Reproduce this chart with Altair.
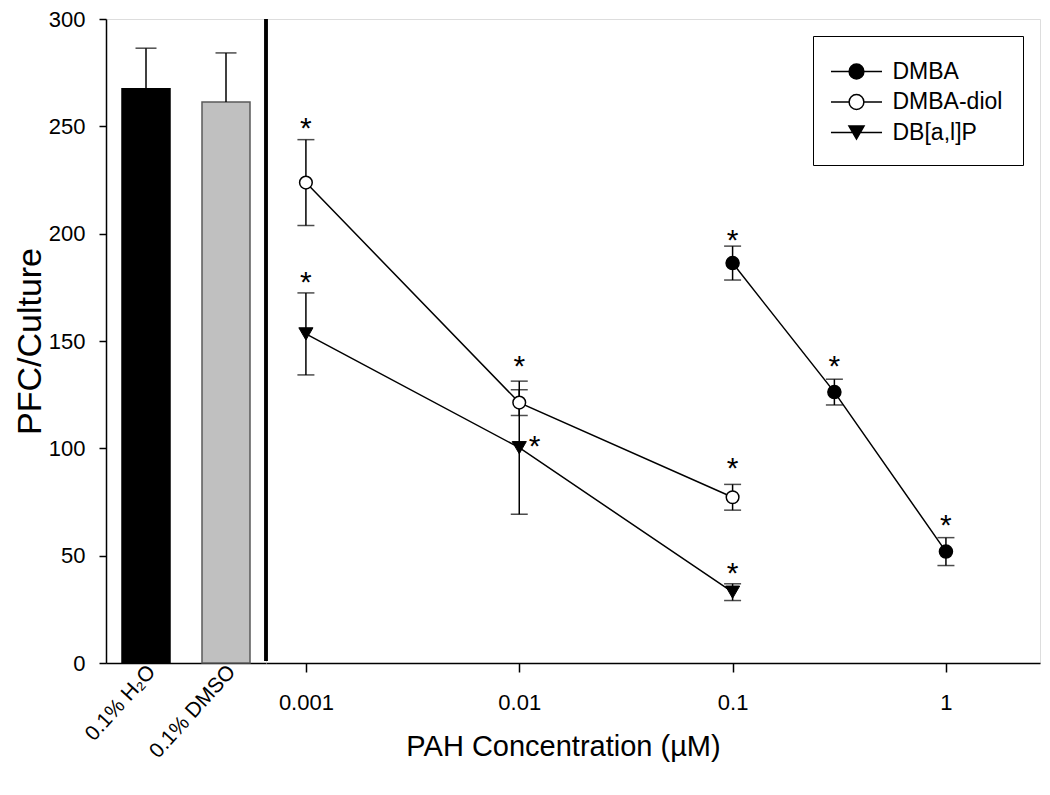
import altair as alt
import pandas as pd

# ---- control bars ----
ctrl_labels = ["0.1% H₂O", "0.1% DMSO"]
ctrl_mean = [267.5, 261.3]
ctrl_hi = [286.4, 284.2]

# ---- dose-response series ----
series = ["DMBA", "DMBA-diol", "DB[a,l]P"]
dmba_conc = [0.1, 0.3, 1.0]
dmba_mean = [186.3, 126.2, 51.9]
dmba_err = [7.9, 6.0, 6.5]
dmba_star = [200.2, 141.6, 67.6]

diol_conc = [0.001, 0.01, 0.1]
diol_mean = [223.8, 121.3, 77.2]
diol_err = [20.0, 6.0, 6.0]
diol_star = [252.6, 141.6, 93.9]

db_conc = [0.001, 0.01, 0.1]
db_mean = [153.3, 100.3, 33.0]
db_err = [19.1, 31.0, 3.9]
db_star = [180.9, None, 45.3]
db_side_star_conc = [0.0118]
db_side_star_val = [104.5]

x_ticks = [0.001, 0.01, 0.1, 1]
y_ticks = [0, 50, 100, 150, 200, 250, 300]

SANS = "Liberation Sans"

rows = []
for name, cs, ms, es, ss in [
    ("DMBA", dmba_conc, dmba_mean, dmba_err, dmba_star),
    ("DMBA-diol", diol_conc, diol_mean, diol_err, diol_star),
    ("DB[a,l]P", db_conc, db_mean, db_err, db_star),
]:
    for c, m, e, s in zip(cs, ms, es, ss):
        rows.append({"series": name, "conc": c, "mean": m, "lo": m - e, "hi": m + e, "star": s})
df = pd.DataFrame(rows)
side_star = pd.DataFrame({"conc": db_side_star_conc, "star": db_side_star_val})
ctrl = pd.DataFrame({"label": ctrl_labels, "mean": ctrl_mean, "hi": ctrl_hi})

H = 644
yscale = alt.Scale(domain=[0, 300], nice=False, zero=True)

# ---- left panel ----
xband = alt.X(
    "label:N",
    sort=ctrl_labels,
    scale=alt.Scale(paddingInner=0.4, paddingOuter=0.2),
    axis=alt.Axis(title=None, labelAngle=-48, labelFont=SANS, labelFontSize=21,
                  labelColor="black", ticks=False, domain=True, domainColor="black",
                  domainWidth=1.5, labelPadding=5, labelOffset=6),
)
yleft = alt.Y(
    "mean:Q", scale=yscale,
    axis=alt.Axis(title="PFC/Culture", values=y_ticks, grid=False, tickSize=7, tickWidth=1.5,
                  tickColor="black", domainColor="black", domainWidth=1.5,
                  labelFont=SANS, labelFontSize=22, labelColor="black", labelPadding=14,
                  titleFont=SANS, titleFontSize=34, titleFontWeight="normal",
                  titleColor="black", titlePadding=1),
)
bars = alt.Chart(ctrl).mark_bar(strokeWidth=1.5).encode(
    x=xband, y=yleft,
    fill=alt.Fill("label:N", scale=alt.Scale(domain=ctrl_labels, range=["#000000", "#c0c0c0"]), legend=None),
    stroke=alt.Stroke("label:N", scale=alt.Scale(domain=ctrl_labels, range=["#000000", "#5a5a5a"]), legend=None),
)
bar_err = alt.Chart(ctrl).mark_rule(color="black", strokeWidth=1.5).encode(
    x=alt.X("label:N", sort=ctrl_labels), y="mean:Q", y2="hi:Q")
bar_cap = alt.Chart(ctrl).mark_tick(color="black", thickness=1.5, size=21, orient="horizontal").encode(
    x=alt.X("label:N", sort=ctrl_labels), y="hi:Q")
left = alt.layer(bars, bar_err, bar_cap).properties(width=160, height=H)

# ---- right panel ----
xlog = alt.X(
    "conc:Q",
    scale=alt.Scale(type="log", domain=[0.00065, 2.76], nice=False),
    axis=alt.Axis(title="PAH Concentration (µM)", values=x_ticks, format="~g", grid=False,
                  tickSize=9, tickWidth=1.5, tickColor="black", domainColor="black",
                  domainWidth=1.5, labelFont=SANS, labelFontSize=22, labelColor="black",
                  labelPadding=20, titleFont=SANS, titleFontSize=29,
                  titleFontWeight="normal", titleColor="black", titleX=297, titleY=69),
)
ynone = alt.Y("mean:Q", scale=yscale, axis=None)

base = alt.Chart(df)
lines = base.mark_line(color="black", strokeWidth=1.5).encode(
    x=xlog, y=ynone, detail="series:N", order="conc:Q")
err = base.mark_rule(color="black", strokeWidth=1.5).encode(x="conc:Q", y="lo:Q", y2="hi:Q")
cap_hi = base.mark_tick(color="black", thickness=1.5, size=17, orient="horizontal").encode(
    x="conc:Q", y="hi:Q")
cap_lo = base.mark_tick(color="black", thickness=1.5, size=17, orient="horizontal").encode(
    x="conc:Q", y="lo:Q")
pts_dmba = base.transform_filter(alt.datum.series == "DMBA").mark_point(
    shape="circle", size=170, filled=True, fill="black", stroke="black", strokeWidth=1.5, opacity=1
).encode(x="conc:Q", y="mean:Q")
pts_diol = base.transform_filter(alt.datum.series == "DMBA-diol").mark_point(
    shape="circle", size=160, filled=True, fill="white", stroke="black", strokeWidth=1.5, opacity=1
).encode(x="conc:Q", y="mean:Q")
pts_db = base.transform_filter(alt.datum.series == "DB[a,l]P").mark_point(
    shape="triangle-down", size=200, filled=True, fill="black", stroke="black", strokeWidth=1, opacity=1
).encode(x="conc:Q", y="mean:Q")

circ = "M-1.76,0L-0.51,0M0.51,0L1.76,0M0.51,0A0.51,0.51,0,1,1,-0.51,0A0.51,0.51,0,1,1,0.51,0Z"
tri = "M-1.76,0L1.76,0M-0.52,-0.45L0.52,-0.45L0,0.45Z"
leg = alt.Legend(title=None, orient="none", legendX=547, legendY=17, symbolSize=841,
                 symbolOpacity=1, symbolStrokeWidth=1.5, labelFont=SANS, labelFontSize=23,
                 labelColor="black", padding=20, rowPadding=2.5, symbolOffset=8,
                 labelOffset=20.5, strokeColor="black", fillColor="white", labelLimit=300)
# invisible markers sitting on the data, used only to build the legend
legend_layer = base.mark_point(filled=True, opacity=0, size=841, strokeWidth=1.5).encode(
    x="conc:Q", y="mean:Q",
    shape=alt.Shape("series:N", sort=series, scale=alt.Scale(domain=series, range=[circ, circ, tri]), legend=leg),
    fill=alt.Fill("series:N", sort=series, scale=alt.Scale(domain=series, range=["black", "white", "black"]), legend=leg),
    stroke=alt.Stroke("series:N", sort=series, scale=alt.Scale(domain=series, range=["black", "black", "black"]), legend=leg),
)

stars = base.transform_filter("isValid(datum.star)").mark_text(
    text="*", font=SANS, fontSize=30, baseline="alphabetic", dy=17, color="black"
).encode(x="conc:Q", y="star:Q")
stars_side = alt.Chart(side_star).mark_text(
    text="*", font=SANS, fontSize=30, baseline="alphabetic", dy=17, color="black"
).encode(x="conc:Q", y="star:Q")

divider = alt.Chart(ctrl).mark_rule(color="black", strokeWidth=3.5).encode(
    x=alt.value(0), y=alt.value(0), y2=alt.value(H - 2))

right = alt.layer(lines, err, cap_hi, cap_lo, pts_dmba, pts_diol, pts_db, legend_layer,
                  stars, stars_side, divider).properties(width=774, height=H)

chart = alt.hconcat(left, right, spacing=0, bounds="flush").resolve_scale(
    fill="independent", stroke="independent", shape="independent", y="shared"
).resolve_legend(fill="independent", stroke="independent", shape="independent").properties(
    padding={"left": 4, "top": -1, "right": 0, "bottom": 0}
).configure_view(stroke="black", strokeWidth=1.5).configure(background="white")

chart.save("out.html", embed_options={"renderer": "svg", "actions": False})
